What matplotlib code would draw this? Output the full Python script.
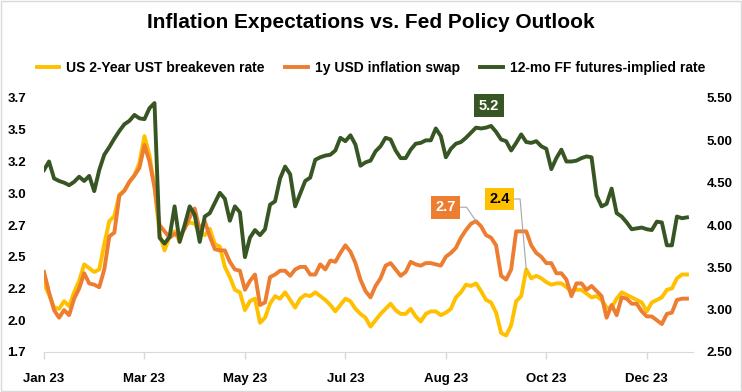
import matplotlib
matplotlib.use("Agg")
import matplotlib.pyplot as plt
from matplotlib.patches import Rectangle
import numpy as np

plt.rcParams['font.family'] = ['Liberation Sans Narrow', 'Liberation Sans', 'DejaVu Sans']
plt.rcParams['font.weight'] = 'bold'

# data (one point every ~5 trading days)
breakeven = [2.29, 2.20, 2.10, 2.09, 2.15, 2.11, 2.22, 2.31, 2.44, 2.41,
             2.38, 2.40, 2.60, 2.78, 2.82, 2.99, 3.02, 3.09, 3.14, 3.24,
             3.45, 3.30, 3.05, 2.68, 2.55, 2.66, 2.70, 2.62, 2.74, 2.77,
             2.76, 2.69, 2.67, 2.72, 2.60, 2.58, 2.42, 2.34, 2.24, 2.22,
             2.08, 2.15, 2.17, 1.98, 2.02, 2.13, 2.19, 2.17, 2.22, 2.16,
             2.10, 2.17, 2.20, 2.19, 2.22, 2.19, 2.16, 2.12, 2.07, 2.12,
             2.17, 2.15, 2.09, 2.05, 2.02, 1.95, 2.00, 2.05, 2.09, 2.13,
             2.08, 2.05, 2.05, 2.09, 2.03, 1.99, 2.05, 2.07, 2.07, 2.04,
             2.06, 2.09, 2.18, 2.22, 2.28, 2.27, 2.29, 2.23, 2.16, 2.14,
             2.06, 1.90, 1.88, 1.96, 2.15, 2.19, 2.40, 2.33, 2.35, 2.33,
             2.30, 2.28, 2.29, 2.29, 2.26, 2.23, 2.24, 2.24, 2.21, 2.18,
             2.19, 2.16, 2.10, 2.10, 2.17, 2.22, 2.20, 2.18, 2.16, 2.14,
             2.07, 2.14, 2.16, 2.18, 2.24, 2.25, 2.33, 2.36, 2.36]

swap_1y = [2.38, 2.22, 2.08, 2.02, 2.08, 2.04, 2.17, 2.25, 2.37, 2.29,
           2.28, 2.26, 2.40, 2.66, 2.69, 2.98, 3.02, 3.09, 3.14, 3.20,
           3.38, 3.25, 3.05, 2.75, 2.70, 2.65, 2.68, 2.66, 2.72, 2.81,
           2.88, 2.71, 2.78, 2.66, 2.56, 2.55, 2.55, 2.46, 2.40, 2.39,
           2.24, 2.31, 2.36, 2.12, 2.14, 2.34, 2.36, 2.39, 2.39, 2.35,
           2.40, 2.42, 2.42, 2.36, 2.36, 2.44, 2.40, 2.47, 2.46, 2.53,
           2.59, 2.54, 2.45, 2.32, 2.23, 2.18, 2.27, 2.33, 2.43, 2.45,
           2.40, 2.35, 2.38, 2.46, 2.44, 2.43, 2.45, 2.45, 2.44, 2.43,
           2.50, 2.53, 2.57, 2.65, 2.71, 2.76, 2.78, 2.74, 2.67, 2.65,
           2.59, 2.35, 2.32, 2.40, 2.70, 2.70, 2.70, 2.59, 2.53, 2.50,
           2.45, 2.45, 2.37, 2.37, 2.32, 2.19, 2.29, 2.29, 2.24, 2.27,
           2.23, 2.19, 2.02, 2.12, 2.04, 2.18, 2.17, 2.13, 2.13, 2.07,
           2.03, 2.03, 2.00, 1.97, 2.05, 2.06, 2.16, 2.17, 2.17]

ff_implied = [4.65, 4.75, 4.55, 4.52, 4.50, 4.47, 4.51, 4.57, 4.52, 4.58,
              4.40, 4.65, 4.83, 4.92, 5.02, 5.11, 5.19, 5.23, 5.30, 5.26,
              5.25, 5.38, 5.44, 3.85, 3.78, 3.86, 4.22, 3.80, 4.00, 4.22,
              4.12, 3.80, 4.10, 4.14, 4.26, 4.38, 4.31, 4.05, 4.22, 4.15,
              3.62, 3.85, 3.94, 3.88, 3.95, 4.24, 4.28, 4.55, 4.69, 4.60,
              4.22, 4.37, 4.52, 4.56, 4.77, 4.80, 4.82, 4.83, 4.88, 5.03,
              4.99, 5.06, 4.95, 4.70, 4.74, 4.76, 4.87, 4.93, 5.03, 5.01,
              4.88, 4.79, 4.79, 4.89, 4.96, 4.97, 5.00, 5.00, 5.14, 5.05,
              4.80, 4.90, 4.96, 4.98, 5.03, 5.09, 5.15, 5.14, 5.15, 5.17,
              5.10, 5.01, 4.99, 4.88, 4.97, 5.07, 4.98, 4.97, 4.99, 4.93,
              4.90, 4.66, 4.79, 4.89, 4.75, 4.75, 4.76, 4.79, 4.81, 4.80,
              4.35, 4.22, 4.25, 4.43, 4.14, 4.10, 4.03, 3.95, 3.96, 3.97,
              3.95, 3.94, 4.04, 4.03, 3.76, 3.76, 4.10, 4.08, 4.09]

x_labels = ['Jan 23', 'Mar 23', 'May 23', 'Jul 23', 'Aug 23', 'Oct 23', 'Dec 23']
left_ticks = [1.75, 2.0, 2.25, 2.5, 2.75, 3.0, 3.25, 3.5, 3.75]
left_labels = ['1.7', '2.0', '2.2', '2.5', '2.7', '3.0', '3.2', '3.5', '3.7']
right_ticks = [2.5, 3.0, 3.5, 4.0, 4.5, 5.0, 5.5]

YELLOW = '#FFC000'
ORANGE = '#ED7D31'
GREEN = '#375623'

x = np.arange(len(breakeven))

fig = plt.figure(figsize=(7.42, 3.92), dpi=100)
ax = fig.add_axes([44/742, 1-352/392, (693-44)/742, (352-98)/392])
ax2 = ax.twinx()

l1, = ax.plot(x, breakeven, color=YELLOW, lw=2.8, label='US 2-Year UST breakeven rate')
l2, = ax.plot(x, swap_1y, color=ORANGE, lw=2.8, label='1y USD inflation swap')
l3, = ax2.plot(x, ff_implied, color=GREEN, lw=2.8, label='12-mo FF futures-implied rate')

ax.set_xlim(0, 129.2)
ax.set_ylim(1.75, 3.75)
ax2.set_ylim(2.5, 5.5)

ax.set_xticks(np.arange(0, 121, 20))
ax.set_xticklabels(x_labels)
ax.set_yticks(left_ticks)
ax.set_yticklabels(left_labels)
ax2.set_yticks(right_ticks)
ax2.set_yticklabels(['%.2f' % v for v in right_ticks])

for a in (ax, ax2):
    for s in ['top', 'left', 'right']:
        a.spines[s].set_visible(False)
    a.spines['bottom'].set_color('#d9d9d9')
ax2.spines['bottom'].set_visible(False)

ax.tick_params(axis='x', length=5, width=1, color='#d9d9d9', pad=10, labelsize=9.5)
ax.tick_params(axis='y', length=0, pad=13, labelsize=9.5)
ax2.tick_params(axis='y', length=0, pad=10, labelsize=9.5)

# data labels
ax.annotate('2.7', xy=(86, swap_1y[86]), xytext=(80, 2.89),
            ha='center', va='center', color='white', fontsize=10.5, fontweight='bold',
            bbox=dict(boxstyle='square,pad=0.3', fc=ORANGE, ec='none'),
            arrowprops=dict(arrowstyle='-', color='#a6a6a6', lw=0.8, relpos=(1, 0.5),
                            connectionstyle='angle,angleA=0,angleB=-56,rad=0',
                            shrinkA=0, shrinkB=0))
ax.annotate('2.4', xy=(96, breakeven[96]), xytext=(90.7, 2.955),
            ha='center', va='center', color='black', fontsize=10.5, fontweight='bold',
            bbox=dict(boxstyle='square,pad=0.3', fc=YELLOW, ec='none'),
            arrowprops=dict(arrowstyle='-', color='#a6a6a6', lw=0.8, relpos=(1, 0.5),
                            connectionstyle='angle,angleA=0,angleB=-85,rad=0',
                            shrinkA=0, shrinkB=0))
ax2.annotate('5.2', xy=(89, ff_implied[89]), xytext=(88.6, 5.41),
             ha='center', va='center', color='white', fontsize=10.5, fontweight='bold',
             bbox=dict(boxstyle='square,pad=0.3', fc=GREEN, ec='none'))

fig.text(0.5, 1-22/392, 'Inflation Expectations vs. Fed Policy Outlook',
         ha='center', va='center', fontsize=15, fontweight='bold')
fig.legend([l1, l2, l3], [l1.get_label(), l2.get_label(), l3.get_label()],
           loc='center', bbox_to_anchor=(0.5, 1-68/392), ncol=3, frameon=False,
           fontsize=10, handlelength=1.6, handletextpad=0.5, columnspacing=1.5)

fig.patches.append(Rectangle((0.0007, 0.0013), 0.9986, 0.9974, transform=fig.transFigure,
                             fill=False, ec='#d9d9d9', lw=1))

fig.savefig('out.png', dpi=100)
